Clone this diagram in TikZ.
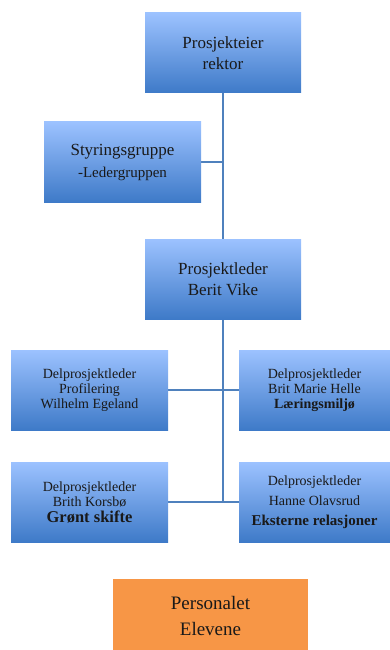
\documentclass[tikz,border=0pt]{standalone}
\usepackage{fontspec}
\setmainfont{Liberation Serif}
\usetikzlibrary{backgrounds}
\definecolor{gtop}{RGB}{156,194,255}
\definecolor{gbot}{RGB}{62,122,200}
\definecolor{lineblue}{RGB}{79,129,189}
\definecolor{orangebox}{RGB}{247,150,70}
\tikzset{
  box/.style={rectangle, top color=gtop, bottom color=gbot, draw=none,
    inner sep=0pt, outer sep=0pt, align=center, text=black!90},
  obox/.style={rectangle, fill=orangebox, draw=none, inner sep=0pt, outer sep=0pt,
    align=center, text=black!90},
  conn/.style={draw=lineblue, line width=1.6pt}
}
\begin{document}
\begin{tikzpicture}[x=1pt,y=-1pt]
\useasboundingbox (0,0) rectangle (390,650);
\node[box, minimum width=156pt, minimum height=80pt, font=\fontsize{17}{21}\selectfont] (eier) at (223,53)
  {Prosjekteier\\rektor};
\node[box, minimum width=157pt, minimum height=80pt, font=\fontsize{17}{22}\selectfont] (styr) at (122.5,162)
  {Styringsgruppe\\{\fontsize{15}{22}\selectfont -Ledergruppen}};
\node[box, minimum width=156pt, minimum height=80pt, font=\fontsize{17}{21}\selectfont] (leder) at (223,279)
  {Prosjektleder\\Berit Vike};
\node[box, minimum width=157pt, minimum height=80pt, font=\fontsize{14}{15}\selectfont] (d1) at (89.5,390)
  {Delprosjektleder\\Profilering\\Wilhelm Egeland};
\node[box, minimum width=151pt, minimum height=80pt, font=\fontsize{14}{15}\selectfont] (d2) at (314.5,390)
  {Delprosjektleder\\Brit Marie Helle\\\textbf{Læringsmiljø}};
\node[box, minimum width=157pt, minimum height=80pt, font=\fontsize{14}{15}\selectfont] (d3) at (89.5,502)
  {Delprosjektleder\\Brith Korsbø\\[1pt]{\fontsize{16.5}{16}\selectfont\bfseries Grønt skifte}};
\node[box, minimum width=151pt, minimum height=80pt, font=\fontsize{14}{20}\selectfont] (d4) at (314.5,502)
  {Delprosjektleder\\Hanne Olavsrud\\{\fontsize{15}{20}\selectfont\bfseries Eksterne relasjoner}};
\node[obox, minimum width=195pt, minimum height=74pt, font=\fontsize{19}{26}\selectfont] (pers) at (210.5,616)
  {Personalet\\Elevene};
\coordinate (vend) at (223,503);
\begin{scope}[on background layer]
  \draw[conn] (eier.south) -- (vend);
  \draw[conn] (styr.east) -- (styr.east -| eier.south);
  \draw[conn] (d1.east) -- (d2.west);
  \draw[conn] (d3.east) -- (d4.west);
\end{scope}
\end{tikzpicture}
\end{document}
